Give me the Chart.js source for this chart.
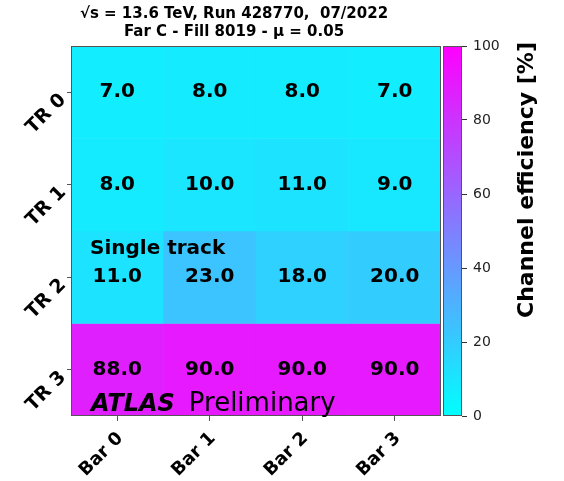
<!DOCTYPE html>
<html>
<head>
<meta charset="utf-8">
<script src="https://cdn.jsdelivr.net/npm/chart.js@4"></script>
<style>
  body { margin: 0; background: #fff; width: 564px; height: 481px; position: relative; overflow: hidden; }
  canvas { position: absolute; top: 0; }
  #heat { left: 0; }
  #cbar { left: 443px; }
</style>
</head>
<body>
<canvas id="heat" width="443" height="481"></canvas>
<canvas id="cbar" width="121" height="481"></canvas>
<script>
const rowLabels = ['TR 0', 'TR 1', 'TR 2', 'TR 3'];
const colLabels = ['Bar 0', 'Bar 1', 'Bar 2', 'Bar 3'];
const tr0 = [7, 8, 8, 7];
const tr1 = [8, 10, 11, 9];
const tr2 = [11, 23, 18, 20];
const tr3 = [88, 90, 90, 90];
const cbarTicks = [0, 20, 40, 60, 80, 100];
const rows = [tr0, tr1, tr2, tr3];

const FONT = "'DejaVu Sans', sans-serif";

// matplotlib "cool" colormap: cyan -> magenta
function cool(v) {
  const t = Math.max(0, Math.min(1, v / 100));
  return `rgb(${Math.round(255 * t)},${Math.round(255 * (1 - t))},255)`;
}

const heatText = {
  id: 'heatText',
  afterDraw(chart) {
    const { ctx, chartArea: a, scales: { x, y } } = chart;
    ctx.save();
    // frame
    ctx.strokeStyle = '#555';
    ctx.lineWidth = 1;
    ctx.strokeRect(a.left + 0.5, a.top + 0.5, a.width - 1, a.height - 1);

    // cell values
    ctx.fillStyle = '#000';
    ctx.font = `bold 20px ${FONT}`;
    ctx.textAlign = 'center';
    ctx.textBaseline = 'middle';
    rows.forEach((vals, r) => {
      vals.forEach((v, c) => {
        ctx.fillText(v.toFixed(1), x.getPixelForValue(c), y.getPixelForValue(r + 0.5));
      });
    });

    // annotations
    ctx.textAlign = 'left';
    ctx.textBaseline = 'alphabetic';
    ctx.fillText('Single track', a.left + 19, y.getPixelForValue(2.25));
    ctx.font = `italic bold 24px ${FONT}`;
    const ax = a.left + 20, ay = a.bottom - 5;
    ctx.fillText('ATLAS', ax, ay);
    const w = ctx.measureText('ATLAS').width;
    ctx.font = `26px ${FONT}`;
    ctx.fillText('Preliminary', ax + w + 14, ay);

    // title
    ctx.font = `bold 15px ${FONT}`;
    ctx.textAlign = 'center';
    ctx.textBaseline = 'middle';
    ctx.fillText('√s = 13.6 TeV, Run 428770,  07/2022', 234, 14);
    ctx.fillText('Far C - Fill 8019 - μ = 0.05', 234, 32);
    ctx.restore();
  }
};

const datasets = rows.map((vals, r) => ({
  label: rowLabels[r],
  data: vals.map(() => [r, r + 1]),
  backgroundColor: vals.map(cool),
  borderWidth: 0,
  barPercentage: 1,
  categoryPercentage: 1,
  grouped: false,
}));

new Chart(document.getElementById('heat'), {
  type: 'bar',
  data: { labels: colLabels, datasets },
  options: {
    responsive: false,
    animation: false,
    devicePixelRatio: 1,
    layout: { padding: { top: 46, right: 2, left: 0, bottom: 0 } },
    plugins: { legend: { display: false }, tooltip: { enabled: false } },
    scales: {
      x: {
        type: 'category',
        offset: true,
        afterFit: s => { s.height = 65; },
        ticks: {
          minRotation: 45, maxRotation: 45, padding: 7, labelOffset: 3, color: '#000',
          font: { family: FONT, size: 18, weight: 'bold' },
        },
        grid: { offset: false, drawOnChartArea: false, tickLength: 5, color: '#555' },
        border: { display: false },
      },
      y: {
        type: 'linear',
        min: 0,
        max: 4,
        reverse: true,
        afterBuildTicks: s => { s.ticks = rowLabels.map((_, i) => ({ value: i + 0.5 })); },
        afterFit: s => { s.width = 71; },
        ticks: {
          callback: v => rowLabels[Math.floor(v)],
          minRotation: 45, maxRotation: 45, padding: 4, labelOffset: 5, color: '#000',
          font: { family: FONT, size: 19, weight: 'bold' },
        },
        grid: { drawOnChartArea: false, tickLength: 4, color: '#555' },
        border: { display: false },
      },
    },
  },
  plugins: [heatText],
});

const cbarText = {
  id: 'cbarText',
  afterDraw(chart) {
    const { ctx, chartArea: a } = chart;
    ctx.save();
    ctx.strokeStyle = '#555';
    ctx.lineWidth = 1;
    ctx.strokeRect(a.left + 0.5, a.top + 0.5, a.width - 1, a.height - 1);
    ctx.translate(84, 180);
    ctx.rotate(-Math.PI / 2);
    ctx.fillStyle = '#000';
    ctx.font = `bold 22px ${FONT}`;
    ctx.textAlign = 'center';
    ctx.textBaseline = 'middle';
    ctx.fillText('Channel efficiency [%]', 0, 0);
    ctx.restore();
  }
};

new Chart(document.getElementById('cbar'), {
  type: 'bar',
  data: {
    labels: ['efficiency'],
    datasets: [{
      data: [[cbarTicks[0], cbarTicks[cbarTicks.length - 1]]],
      backgroundColor: c => {
        const a = c.chart.chartArea;
        if (!a) return cool(0);
        const g = c.chart.ctx.createLinearGradient(0, a.bottom, 0, a.top);
        g.addColorStop(0, cool(0));
        g.addColorStop(1, cool(100));
        return g;
      },
      borderWidth: 0,
      barPercentage: 1,
      categoryPercentage: 1,
    }],
  },
  options: {
    responsive: false,
    animation: false,
    devicePixelRatio: 1,
    layout: { padding: { top: 46, bottom: 65, left: 0, right: 0 } },
    plugins: { legend: { display: false }, tooltip: { enabled: false } },
    scales: {
      x: { display: false },
      y: {
        position: 'right',
        min: 0,
        max: 100,
        afterBuildTicks: s => { s.ticks = cbarTicks.map(v => ({ value: v })); },
        afterFit: s => { s.width = 102; },
        ticks: { padding: 6, color: '#222', font: { family: FONT, size: 14 } },
        grid: { drawOnChartArea: false, tickLength: 5, color: '#333' },
        border: { display: false },
      },
    },
  },
  plugins: [cbarText],
});
</script>
</body>
</html>
